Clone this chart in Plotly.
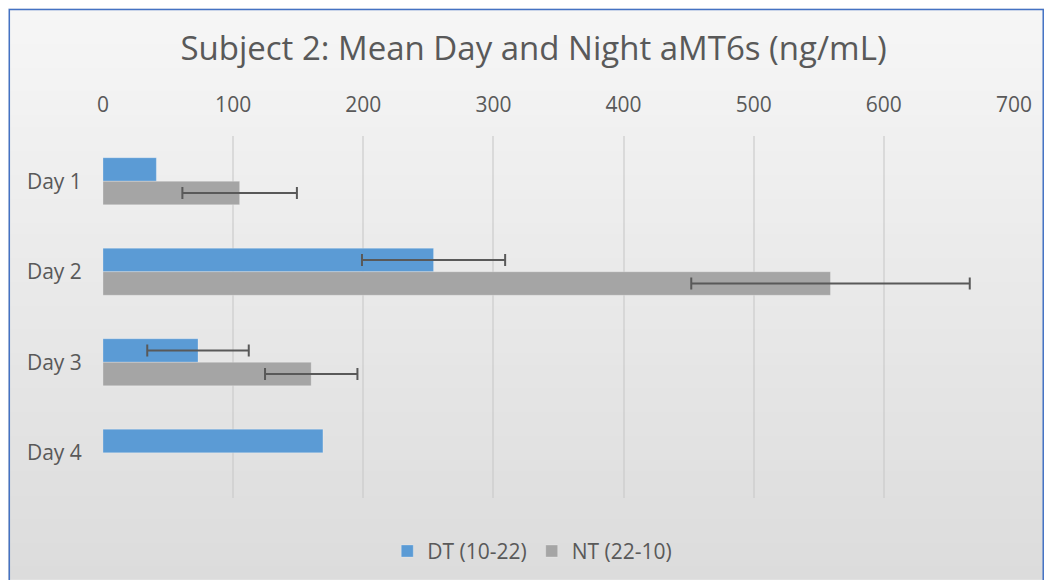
import numpy as np
import plotly.graph_objects as go

days = ["Day 1", "Day 2", "Day 3", "Day 4"]
dt_vals = [41, 254, 73, 169]
dt_err = [None, 55, 39, None]
nt_vals = [105, 559, 160, None]
nt_err = [44, 107, 35.5, None]
x_ticks = [0, 100, 200, 300, 400, 500, 600, 700]

OFF = 8  # page body margin
W, H = 1036, 572
L, T = 102.5 - OFF, 135.5 - OFF
R = W - (1014 - OFF)
B = H - (498.5 - OFF)
pw, ph = W - L - R, H - T - B


def px(x):  # screenshot x -> paper x
    return (x - OFF - L) / pw


def py(y):  # screenshot y -> paper y
    return (H - B - (y - OFF)) / ph


def err_arr(v):
    return np.array([np.nan if e is None else e for e in v], dtype=float)


font_family = "Open Sans, Lato, sans-serif"
txt = "#595959"

fig = go.Figure()
fig.add_trace(go.Bar(
    y=days, x=dt_vals, name="DT (10-22)", orientation="h",
    marker=dict(color="#5B9BD5", line=dict(color="rgba(255,255,255,0.25)", width=1)),
    error_x=dict(type="data", array=err_arr(dt_err), visible=True,
                 color="#595959", thickness=2, width=6),
))
fig.add_trace(go.Bar(
    y=days, x=nt_vals, name="NT (22-10)", orientation="h",
    marker=dict(color="#A5A5A5", line=dict(color="rgba(255,255,255,0.25)", width=1)),
    error_x=dict(type="data", array=err_arr(nt_err), visible=True,
                 color="#595959", thickness=2, width=6),
))

# gradient background
shapes = []
n = 48
c_top, c_bot = (246, 246, 246), (220, 220, 220)
for i in range(n):
    f = i / (n - 1)
    c = tuple(int(round(c_top[k] + (c_bot[k] - c_top[k]) * f)) for k in range(3))
    y0 = OFF + H * i / n
    y1 = OFF + H * (i + 1) / n
    shapes.append(dict(type="rect", xref="paper", yref="paper", layer="below",
                       x0=px(OFF - 1), x1=px(OFF + W + 1), y0=py(y1 + 0.6), y1=py(y0 - 0.6),
                       line=dict(width=0), fillcolor="rgb(%d,%d,%d)" % c))
shapes.append(dict(type="rect", xref="paper", yref="paper", layer="above",
                   x0=px(OFF + 0.75), x1=px(OFF + W - 0.75), y0=py(620), y1=py(OFF + 0.75),
                   line=dict(color="#4472C4", width=1.5), fillcolor="rgba(0,0,0,0)"))

fig.update_layout(
    template="none",
    width=W, height=H,
    margin=dict(l=L, r=R, t=T, b=B, pad=0, autoexpand=False),
    paper_bgcolor="#eeeeee", plot_bgcolor="rgba(0,0,0,0)",
    barmode="group", bargap=0.48, bargroupgap=0,
    font=dict(family=font_family, color=txt),
    title=dict(text="Subject 2: Mean Day and Night aMT6s (ng/mL)",
               font=dict(size=33, color=txt, family=font_family),
               x=(533.5 - OFF) / W, xref="container", xanchor="center",
               y=1 - (48 - OFF) / H, yanchor="middle"),
    xaxis=dict(range=[0, 700], side="top", tickvals=x_ticks, automargin=False,
               showgrid=True, gridcolor="rgba(200,200,200,0.55)", gridwidth=1.5,
               zeroline=False, showline=False,
               ticks="outside", ticklen=15, tickcolor="rgba(0,0,0,0)",
               tickfont=dict(size=21, color=txt)),
    yaxis=dict(autorange="reversed", showgrid=False, zeroline=False, showline=False,
               automargin=False,
               ticks="outside", ticklen=16, tickcolor="rgba(0,0,0,0)",
               tickfont=dict(size=21, color=txt)),
    legend=dict(orientation="h", x=px(532), xanchor="center", y=py(552), yanchor="middle",
                font=dict(size=21, color=txt), bgcolor="rgba(0,0,0,0)",
                traceorder="normal"),
    shapes=shapes,
)

fig.write_html("out.html")
